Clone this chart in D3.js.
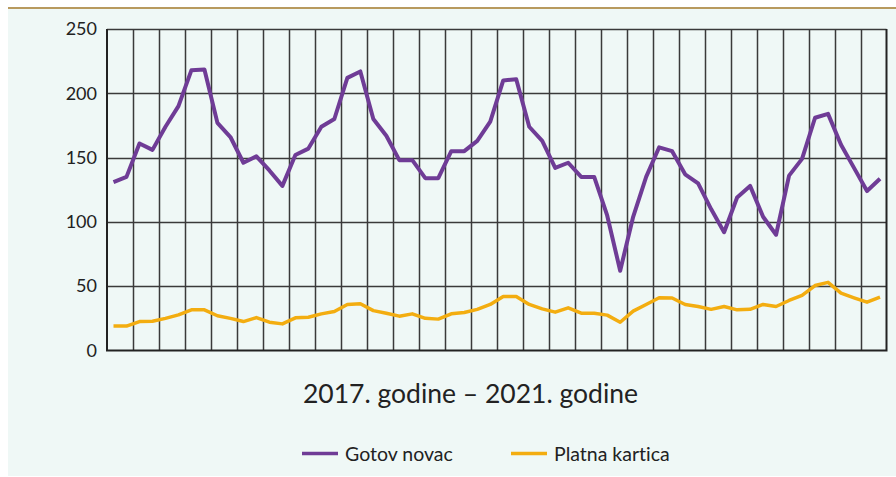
<!DOCTYPE html>
<html lang="hr">
    <head>
        <meta charset="utf-8">
        <title>Gotov novac i platna kartica</title>
        <script src="https://d3js.org/d3.v7.min.js"></script>
        <style type="text/css">
            body {
                margin: 0;
                background: #ffffff;
            }
            svg text {
                font-family: Lato, "Open Sans", sans-serif;
                font-variant-ligatures: none;
                fill: #222222;
            }
        </style>
    </head>
    <body>
        <script type="text/javascript">
            // Monthly values, 2017 - 2021
            let months = d3.range(60);
            let cash = [131, 135, 161, 156, 174, 190, 218, 218.5, 177, 166, 146, 151,
                        140, 128, 152, 157, 174, 180, 212, 217, 180, 167, 148, 148,
                        134, 134, 155, 155, 163, 178, 210, 211, 174, 163, 142, 146,
                        135, 135, 105, 62, 104, 135, 158, 155, 137, 130, 110, 92,
                        119, 128, 104, 90, 136, 149, 181, 184, 160, 142, 124, 133.5];
            let card = [19, 19, 22.5, 22.8, 25, 27.7, 31.6, 31.6, 27, 25, 22.5, 25.6,
                        22, 20.7, 25.4, 25.9, 28.5, 30.3, 35.8, 36.3, 31, 29, 26.7, 28.5,
                        25, 24.4, 28.5, 29.5, 32, 35.8, 42, 42, 35.8, 32.4, 29.8, 33.2,
                        29, 29, 27.5, 22, 30.6, 35.8, 41, 40.8, 35.8, 34.2, 32, 34.2,
                        31.6, 32, 35.8, 34.2, 38.9, 42.8, 50.5, 53, 44.6, 41, 37.6, 41.5];
            let yTicks = [0, 50, 100, 150, 200, 250];
            let seriesNames = ["Gotov novac", "Platna kartica"];
            let seriesColors = ["#6f3c96", "#f3ad10"];
            let xLabel = "2017. godine \u2013 2021. godine";

            let w = 896;
            let h = 477;
            let plot = {left: 107, right: 886.5, top: 29, bottom: 350.5};

            let svg = d3.select("body")
                        .append("svg")
                        .attr("width", w)
                        .attr("height", h);

            // panel background and top rule
            svg.append("rect")
               .attr("x", 8)
               .attr("y", 8)
               .attr("width", w - 8)
               .attr("height", h - 9)
               .attr("fill", "#eff8f6");
            svg.append("line")
               .attr("x1", 8).attr("x2", w)
               .attr("y1", 8).attr("y2", 8)
               .attr("stroke", "#b89a5e")
               .attr("stroke-width", 2);

            let xScale = d3.scaleBand()
                           .domain(months)
                           .range([plot.left, plot.right]);
            let yScale = d3.scaleLinear()
                           .domain([0, 250])
                           .range([plot.bottom, plot.top]);

            // vertical grid, one line every two months
            let vLines = months.filter(m => m % 2 === 0).slice(1);
            svg.append("g")
               .selectAll("line")
               .data(vLines)
               .enter()
               .append("line")
               .attr("x1", d => Math.round(xScale(d)) + 0.5)
               .attr("x2", d => Math.round(xScale(d)) + 0.5)
               .attr("y1", plot.top)
               .attr("y2", plot.bottom)
               .attr("stroke", "#3a3a3a")
               .attr("stroke-width", 1.5);

            // horizontal grid
            svg.append("g")
               .selectAll("line")
               .data(yTicks.slice(1))
               .enter()
               .append("line")
               .attr("x1", plot.left)
               .attr("x2", plot.right)
               .attr("y1", d => Math.round(yScale(d)) + 0.5)
               .attr("y2", d => Math.round(yScale(d)) + 0.5)
               .attr("stroke", "#3a3a3a")
               .attr("stroke-width", 1.5);

            // frame: left, right, bottom
            svg.append("path")
               .attr("d", `M${plot.left},${plot.top}V${plot.bottom}H${plot.right}V${plot.top}`)
               .attr("fill", "none")
               .attr("stroke", "#222222")
               .attr("stroke-width", 2);

            // y axis labels
            let yAxis = d3.axisLeft(yScale)
                          .tickValues(yTicks)
                          .tickSize(0)
                          .tickPadding(10);
            let gy = svg.append("g")
                        .attr("transform", `translate(${plot.left},0)`)
                        .call(yAxis);
            gy.select(".domain").remove();
            gy.selectAll("text")
              .attr("font-size", 18)
              .style("font-family", "Lato, sans-serif")
              .attr("fill", "#222222");

            // lines
            let line = d3.line()
                         .x((d, i) => xScale(i) + xScale.bandwidth() / 2)
                         .y(d => yScale(d));
            [card, cash].forEach(function(series, k) {
                svg.append("path")
                   .datum(series)
                   .attr("d", line)
                   .attr("fill", "none")
                   .attr("stroke", k === 0 ? seriesColors[1] : seriesColors[0])
                   .attr("stroke-width", k === 0 ? 3.5 : 4)
                   .attr("stroke-linejoin", "round");
            });

            // x axis title
            svg.append("text")
               .attr("x", 470.5)
               .attr("y", 403)
               .attr("text-anchor", "middle")
               .attr("font-size", 26.5)
               .attr("fill", "#111111")
               .text(xLabel);

            // legend
            let legendX = [302, 511];
            let legend = svg.append("g")
                            .selectAll("g")
                            .data(seriesNames)
                            .enter()
                            .append("g")
                            .attr("transform", (d, i) => `translate(${legendX[i]},453.5)`);
            legend.append("line")
                  .attr("x1", 0).attr("x2", 36)
                  .attr("stroke", (d, i) => seriesColors[i])
                  .attr("stroke-width", 3.5);
            legend.append("text")
                  .attr("x", 43)
                  .attr("y", 7)
                  .attr("font-size", 19.5)
                  .attr("fill", "#333333")
                  .text(d => d);
        </script>
    </body>
</html>
